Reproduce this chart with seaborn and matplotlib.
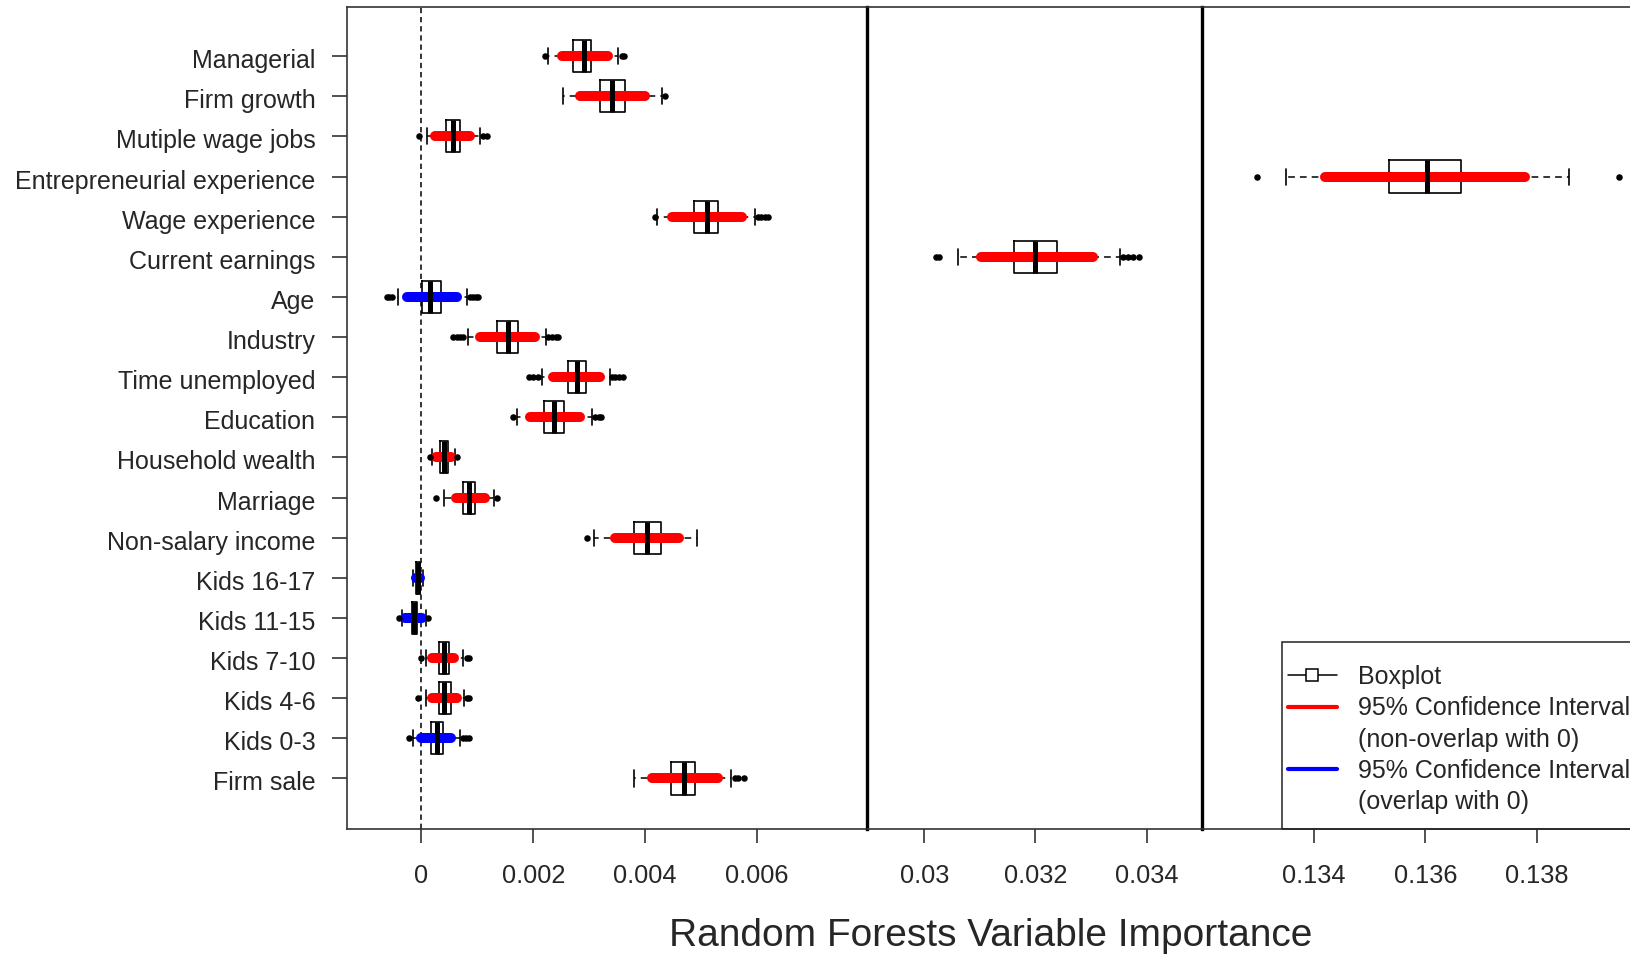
import numpy as np
import pandas as pd
import matplotlib
matplotlib.use("Agg")
import matplotlib.pyplot as plt
import matplotlib.transforms as mtransforms
import seaborn as sns
from matplotlib.lines import Line2D
from matplotlib.patches import Rectangle

sns.set_style("ticks")
plt.rcParams['font.family'] = ['Liberation Sans', 'DejaVu Sans']

# ---------------- data ----------------
variables = ["Managerial", "Firm growth", "Mutiple wage jobs", "Entrepreneurial experience",
             "Wage experience", "Current earnings", "Age", "Industry", "Time unemployed",
             "Education", "Household wealth", "Marriage", "Non-salary income", "Kids 16-17",
             "Kids 11-15", "Kids 7-10", "Kids 4-6", "Kids 0-3", "Firm sale"]
whisker_low = [0.00227, 0.00254, 0.00010, 0.13349, 0.00422, 0.03060, -0.00042, 0.00084, 0.00216,
               0.00171, 0.00019, 0.00041, 0.00309, -0.00015, -0.00035, 0.00008, 0.00008, -0.00015, 0.00381]
q1 = [0.00271, 0.00319, 0.00044, 0.13535, 0.00487, 0.03162, 0.00001, 0.00136, 0.00263,
      0.00219, 0.00033, 0.00075, 0.00380, -0.00009, -0.00017, 0.00032, 0.00032, 0.00017, 0.00446]
median = [0.00290, 0.00340, 0.00056, 0.13602, 0.00510, 0.03200, 0.00016, 0.00155, 0.00279,
          0.00237, 0.00040, 0.00085, 0.00404, -0.00005, -0.00013, 0.00041, 0.00041, 0.00028, 0.00470]
q3 = [0.00304, 0.00364, 0.00070, 0.13663, 0.00531, 0.03238, 0.00035, 0.00172, 0.00294,
      0.00255, 0.00047, 0.00096, 0.00428, -0.00002, -0.00008, 0.00050, 0.00053, 0.00038, 0.00490]
whisker_high = [0.00352, 0.00430, 0.00105, 0.13857, 0.00596, 0.03353, 0.00081, 0.00223, 0.00337,
                0.00306, 0.00060, 0.00130, 0.00493, 0.00003, 0.00008, 0.00075, 0.00076, 0.00069, 0.00553]
ci_low = [0.00251, 0.00284, 0.00025, 0.13419, 0.00448, 0.03102, -0.00026, 0.00105, 0.00236,
          0.00194, 0.00026, 0.00062, 0.00346, -0.00009, -0.00029, 0.00020, 0.00020, 0.00000, 0.00412]
ci_high = [0.00334, 0.00400, 0.00087, 0.13779, 0.00573, 0.03304, 0.00063, 0.00204, 0.00320,
           0.00284, 0.00054, 0.00113, 0.00461, -0.00002, 0.00001, 0.00059, 0.00063, 0.00054, 0.00530]
ci_overlaps_zero = [False, False, False, False, False, False, True, False, False,
                    False, False, False, False, True, True, False, False, True, False]
outliers = [
    [0.00221, 0.00358, 0.00362],
    [0.00436],
    [-0.00004, 0.00111, 0.00118],
    [0.13297, 0.13948],
    [0.00418, 0.00602, 0.00608, 0.00614, 0.00619],
    [0.03021, 0.03027, 0.03358, 0.03367, 0.03376, 0.03387],
    [-0.00062, -0.00057, -0.00053, 0.00087, 0.00093, 0.00097, 0.00102],
    [0.00057, 0.00063, 0.00069, 0.00074, 0.00227, 0.00234, 0.00240, 0.00245],
    [0.00192, 0.00200, 0.00209, 0.00340, 0.00347, 0.00354, 0.00360],
    [0.00164, 0.00310, 0.00317, 0.00322],
    [0.00016, 0.00064],
    [0.00026, 0.00135],
    [0.00296],
    [],
    [-0.00040, 0.00012],
    [-0.00001, 0.00081, 0.00086],
    [-0.00005, 0.00082, 0.00086],
    [-0.00022, 0.00075, 0.00080, 0.00086],
    [0.00561, 0.00566, 0.00576],
]
panel_ticks = [[0, 0.002, 0.004, 0.006], [0.030, 0.032, 0.034], [0.134, 0.136, 0.138]]
panel_ticklabels = [["0", "0.002", "0.004", "0.006"], ["0.03", "0.032", "0.034"],
                    ["0.134", "0.136", "0.138"]]
panel_xlims = [(-0.001333, 0.007966), (0.028971, 0.034996), (0.131984, 0.139693)]
xlabel = "Random Forests Variable Importance"
legend_labels = ["Boxplot", "95% Confidence Interval", "(non-overlap with 0)",
                 "95% Confidence Interval", "(overlap with 0)"]

# ---------------- figure ----------------
W, H = 1631, 956
fig = plt.figure(figsize=(W / 100, H / 100), dpi=100)
edges = [346.7, 867.0, 1202.0, 1631.0]
bottom = 1 - 829.0 / H
top = 1 - 6.7 / H
FS = 18

pos = np.arange(len(variables))
stats = [dict(med=median[i], q1=q1[i], q3=q3[i], whislo=whisker_low[i], whishi=whisker_high[i],
              fliers=[], label=variables[i]) for i in range(len(variables))]
fl_df = pd.DataFrame([(v, i) for i, fl in enumerate(outliers) for v in fl], columns=["value", "pos"])
ci_colors = ["blue" if o else "red" for o in ci_overlaps_zero]

axes = []
for k in range(3):
    ax = fig.add_axes([edges[k] / W, bottom, (edges[k + 1] - edges[k]) / W, top - bottom])
    axes.append(ax)
    ax.set_facecolor("none")
    bxp_kw = dict(positions=pos, widths=0.8, showfliers=False, manage_ticks=False,
                  patch_artist=False, capwidths=0.4,
                  boxprops=dict(color="black", lw=1.2, zorder=3),
                  medianprops=dict(color="black", lw=3.6, solid_capstyle="butt", zorder=6),
                  whiskerprops=dict(color="black", lw=1.1, linestyle=(0, (4.4, 3.3)), zorder=3),
                  capprops=dict(color="black", lw=1.2, zorder=3))
    try:
        ax.bxp(stats, orientation="horizontal", **bxp_kw)
    except TypeError:
        ax.bxp(stats, vert=False, **bxp_kw)
    for i in range(len(variables)):
        ax.plot([ci_low[i], ci_high[i]], [pos[i], pos[i]], color=ci_colors[i], lw=7.2,
                solid_capstyle="round", zorder=5)
    sns.scatterplot(data=fl_df, x="value", y="pos", ax=ax, color="black", s=22,
                    linewidth=0, legend=False, zorder=7)
    ax.set_xlim(*panel_xlims[k])
    ax.set_ylim(len(variables) - 1 + 1.259, -1.232)
    ax.set_xlabel("")
    ax.set_ylabel("")
    ax.set_xticks(panel_ticks[k])
    ax.set_xticklabels(panel_ticklabels[k])
    ax.tick_params(axis="x", length=10, width=1.1, pad=15.5, labelsize=18.3, color="#222",
                   direction="out")
    for s in ["top", "bottom", "left", "right"]:
        ax.spines[s].set_color("#333")
        ax.spines[s].set_linewidth(1.2)

ax1, ax2, ax3 = axes
ax1.set_yticks(pos)
ax1.set_yticklabels(variables)
ax1.tick_params(axis="y", length=11, width=1.1, pad=11.5, labelsize=FS, color="#222")
shift = mtransforms.ScaledTranslation(0, -2.5 / 100, fig.dpi_scale_trans)
for lab in ax1.get_yticklabels():
    lab.set_transform(lab.get_transform() + shift)
for ax in (ax2, ax3):
    ax.tick_params(axis="y", left=False, labelleft=False)
    ax.spines["left"].set_visible(False)
for ax in (ax1, ax2):
    ax.spines["right"].set_color("black")
    ax.spines["right"].set_linewidth(2.4)
    ax.spines["right"].set_zorder(10)
ax3.spines["right"].set_visible(False)
ax1.axvline(0, color="black", lw=1.1, ls=(0, (3.5, 2.5)), zorder=1)

# legend
h_box = Line2D([], [], color="black", lw=1.1, marker="s", markersize=8,
               markerfacecolor="white", markeredgecolor="black", markeredgewidth=1.1)
h_red = Line2D([], [], color="red", lw=3)
h_blue = Line2D([], [], color="blue", lw=3)
h_none = Line2D([], [], color="none", lw=0)
fig.add_artist(Rectangle((1282.0 / W, bottom), 0.5, (829.0 - 642.0) / H,
                         transform=fig.transFigure, fill=False, edgecolor="#222", lw=1.1))
fig.legend(handles=[h_box, h_red, h_none, h_blue, h_none], labels=legend_labels,
           loc="upper left", bbox_to_anchor=(1288.0 / W, 1 - 665.0 / H), frameon=False,
           fontsize=FS, handlelength=1.95, handletextpad=0.84, labelspacing=0.29,
           borderpad=0, borderaxespad=0)

fig.text(991.0 / W, 1 - 946.0 / H, xlabel, ha="center", va="baseline", fontsize=28)

fig.savefig("out.png", dpi=100)
